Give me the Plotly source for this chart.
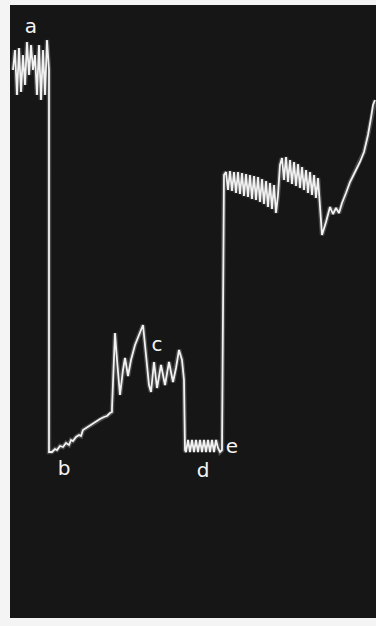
import plotly.graph_objects as go

# time position (horizontal) and screen depth (vertical, measured downward) of the trace
trace_time = [
    13, 15, 17, 19, 21, 23, 25, 27, 29, 31, 33, 35, 37, 39, 41, 43, 45, 47, 49,
    49, 49, 52, 55, 57, 60, 63, 66, 69, 71, 73, 76, 79, 81, 83, 86, 90, 93, 97, 100, 104, 107, 110, 112,
    112, 113, 115, 117, 120, 123, 125, 128, 131, 135, 139, 143, 146, 149, 151, 154, 157, 161,
    165, 169, 173, 176, 179, 182, 184, 185,
    186, 188, 190, 192, 194, 196, 198, 200, 202, 204, 206, 208, 210, 212, 214, 216, 218, 220, 222,
    224, 226, 228, 230, 232, 234, 236, 238, 240, 242, 244, 246, 248, 250, 252, 254, 256, 258,
    260, 262, 264, 266, 268, 270, 272, 274, 276, 278,
    280, 282, 284, 286, 288, 290, 292, 294, 296, 298, 300, 302, 304, 306, 308, 310, 312, 314, 316,
    318, 320, 322, 326, 330, 333, 336, 339, 342, 346, 350, 355, 360, 364, 368, 371, 373, 375,
]
trace_depth = [
    70, 50, 95, 48, 92, 55, 85, 42, 75, 45, 70, 55, 95, 45, 100, 50, 95, 40, 70,
    75, 452, 452, 449, 450, 446, 447, 443, 445, 440, 441, 437, 435, 436, 430, 428, 425, 423, 421, 419, 417, 416, 413, 412,
    408, 380, 333, 360, 395, 370, 358, 376, 360, 345, 335, 325, 355, 385, 392, 362, 388, 365,
    385, 362, 382, 368, 350, 360, 380, 450,
    452, 440, 452, 440, 452, 440, 452, 440, 452, 440, 452, 440, 452, 440, 452, 440, 448, 452, 450,
    175, 172, 190, 171, 191, 172, 193, 172, 194, 173, 196, 174, 197, 175, 199, 176, 200, 177,
    202, 179, 204, 181, 207, 183, 209, 185, 213, 195,
    165, 158, 180, 157, 182, 160, 184, 162, 186, 164, 188, 167, 190, 170, 193, 172, 195, 175, 198,
    178, 205, 235, 222, 207, 214, 208, 213, 203, 193, 182, 172, 162, 152, 135, 118, 105, 100,
]

label_text = ["a", "b", "c", "d", "e"]
label_time = [31, 64, 157, 203, 232]
label_depth = [28, 470, 346, 472, 448]

fig = go.Figure()
fig.add_trace(go.Scatter(
    x=trace_time, y=trace_depth, mode="lines",
    line=dict(color="rgba(255,255,255,0.22)", width=4.5),
    hoverinfo="skip", showlegend=False,
))
fig.add_trace(go.Scatter(
    x=trace_time, y=trace_depth, mode="lines",
    line=dict(color="#f2f2f2", width=1.8),
    hoverinfo="skip", showlegend=False,
))
fig.add_trace(go.Scatter(
    x=label_time, y=label_depth, mode="text", text=label_text,
    textfont=dict(family="DejaVu Sans", size=20, color="#f4f4f4"),
    hoverinfo="skip", showlegend=False,
))

fig.update_layout(
    width=376, height=626,
    margin=dict(l=10, r=0, t=5, b=8),
    paper_bgcolor="#f4f4f4",
    plot_bgcolor="#161616",
    xaxis=dict(range=[10, 376], visible=False, fixedrange=True),
    yaxis=dict(range=[618, 5], visible=False, fixedrange=True),
)

fig.write_html(
    "out.html",
    config={"displayModeBar": False},
    post_script="document.body.style.margin='0';document.body.style.overflow='hidden';",
)
